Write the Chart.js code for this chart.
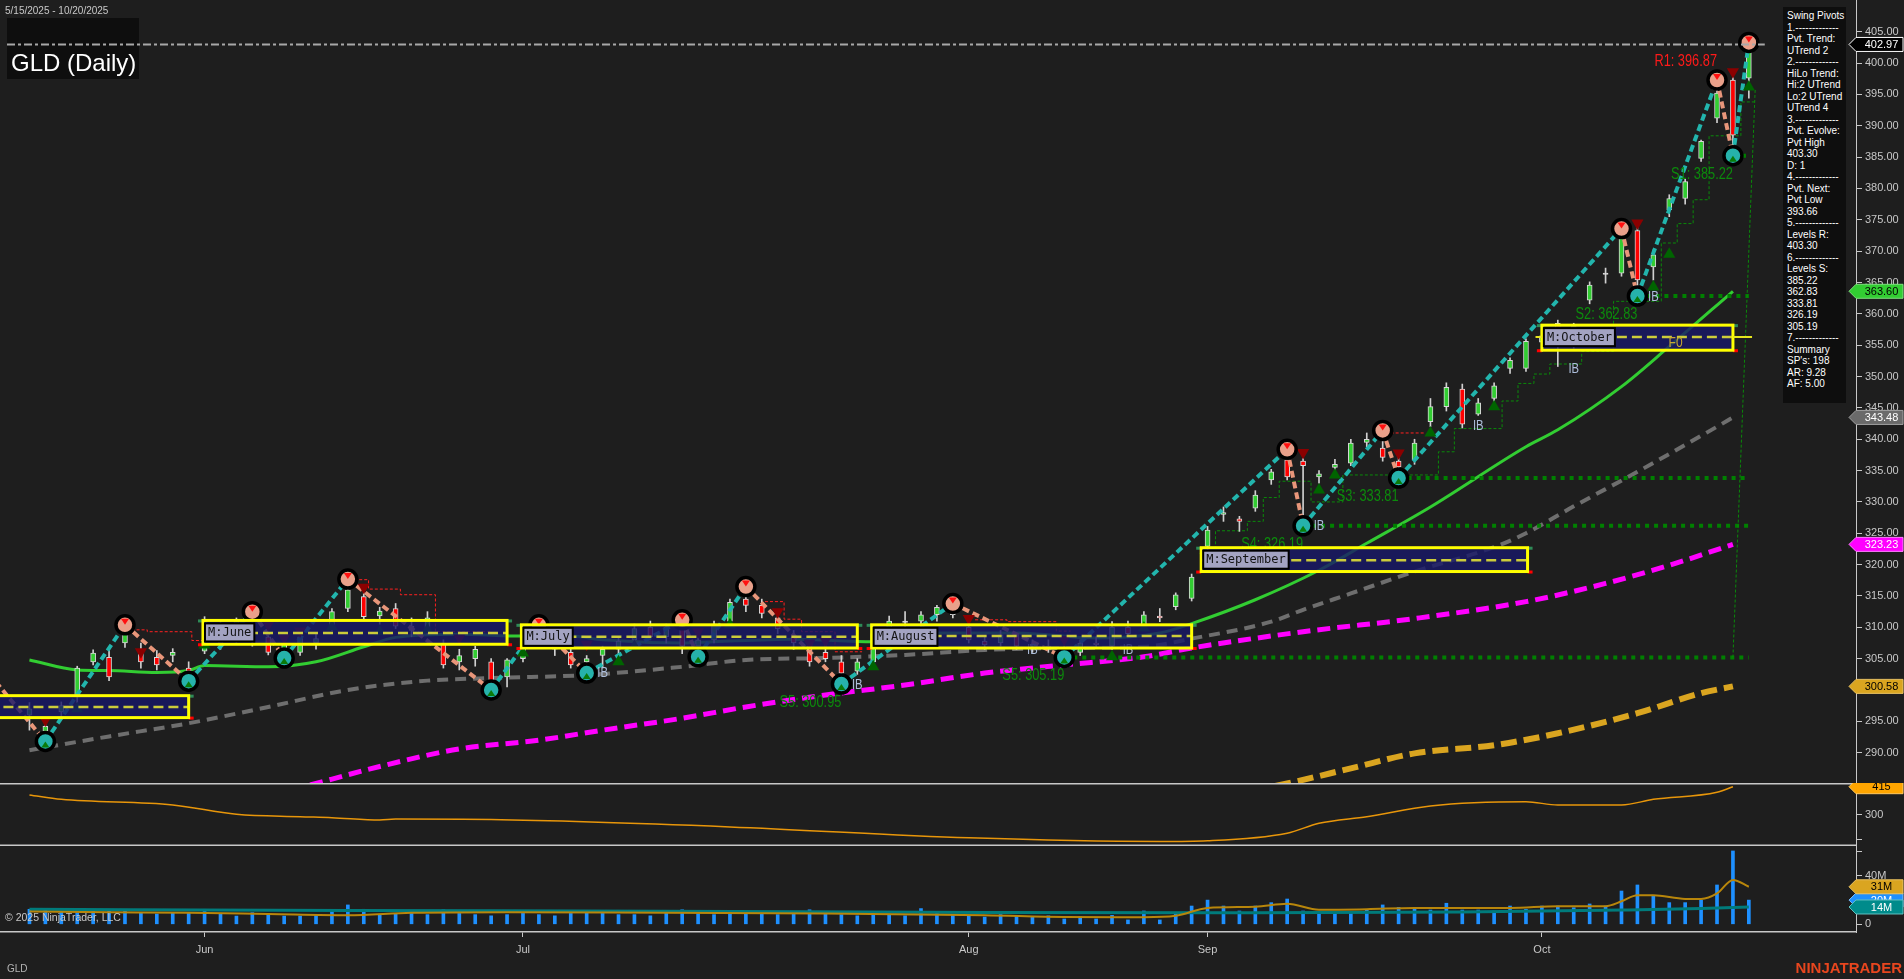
<!DOCTYPE html>
<html>
<head>
<meta charset="utf-8">
<title>GLD (Daily)</title>
<script src="https://cdn.jsdelivr.net/npm/chart.js@4.4.1/dist/chart.umd.min.js"></script>
<style>
  html, body { margin: 0; padding: 0; background: #1e1e1e; overflow: hidden; }
  #wrap { position: relative; width: 1904px; height: 979px; background: #1e1e1e; }
  #wrap canvas { position: absolute; left: 0; }
  #info { position: absolute; left: 1783px; top: 7px; width: 63px; height: 396px; background: #0e0e0e;
          color: #fff; font: 10px "Liberation Sans", Arial, sans-serif; line-height: 11.5px;
          padding: 3px 0 0 4px; box-sizing: border-box; white-space: pre; overflow: hidden; }
</style>
</head>
<body>
<div id="wrap">
  <canvas id="price" width="1904" height="783" style="top:0"></canvas>
  <canvas id="ind" width="1904" height="63" style="top:783px"></canvas>
  <canvas id="vol" width="1904" height="133" style="top:846px"></canvas>
  <div id="info"></div>
</div>
<script>
// ---- daily candles, 5/15/2025 .. 10/20/2025 (bar 0 = May 15) ----
const opens = [
  296.0, 293.4, 296.5, 298.9, 304.5, 305.2, 307.5, 306.5, 305.2, 305.5,
  303.5, 306.2, 310.0, 308.0, 310.5, 308.5, 306.5, 306.0, 307.5, 310.1,
  313.0, 314.9, 311.8, 313.0, 310.2, 309.6, 307.5, 304.5, 305.0, 304.5,
  302.1, 305.0, 308.0, 308.5, 306.0, 304.5, 305.5, 306.5, 308.0, 310.0,
  308.5, 310.0, 307.0, 308.0, 311.0, 314.5, 313.5, 311.5, 308.5, 307.5,
  306.0, 304.5, 303.0, 304.5, 309.5, 311.0, 311.0, 312.0, 313.0, 310.0,
  307.8, 307.5, 308.8, 307.0, 307.0, 306.5, 306.0, 307.5, 307.0, 310.0,
  310.4, 311.8, 313.3, 314.6, 322.9, 328.0, 327.3, 329.0, 333.5, 336.7,
  336.5, 334.0, 335.5, 336.2, 339.5, 338.6, 336.5, 336.7, 342.8, 345.2,
  348.0, 344.0, 346.5, 351.3, 351.3, 355.5, 358.5, 355.5, 362.2, 366.5,
  366.5, 373.3, 367.5, 376.6, 378.4, 384.8, 391.2, 397.3, 397.6
];
const highs = [
  298.0, 295.0, 298.1, 303.8, 306.4, 306.5, 310.4, 307.5, 306.3, 306.6,
  304.5, 311.7, 311.0, 311.5, 312.5, 309.2, 308.0, 309.0, 308.9, 313.0,
  317.7, 316.3, 313.2, 313.8, 311.5, 312.5, 308.0, 306.5, 307.0, 305.0,
  305.0, 308.5, 310.4, 309.5, 307.0, 305.5, 307.0, 308.5, 310.5, 311.0,
  310.5, 311.2, 308.5, 311.0, 314.5, 316.5, 314.5, 312.5, 309.5, 308.0,
  307.7, 305.5, 305.0, 309.5, 311.8, 312.5, 312.5, 313.5, 313.8, 310.5,
  308.5, 309.5, 309.0, 308.0, 308.0, 307.0, 308.0, 308.5, 310.9, 311.0,
  312.5, 313.0, 315.5, 318.5, 326.1, 329.2, 327.7, 331.8, 335.2, 338.4,
  337.0, 335.0, 336.8, 340.0, 341.0, 341.4, 337.5, 340.0, 346.5, 349.0,
  348.8, 346.5, 349.0, 353.0, 356.0, 357.5, 359.0, 358.5, 365.1, 367.3,
  373.6, 374.0, 370.2, 379.0, 381.5, 387.7, 397.3, 398.0, 403.3
];
const lows = [
  293.6, 291.8, 295.5, 298.0, 304.0, 301.5, 306.8, 303.5, 303.2, 304.5,
  301.4, 305.8, 306.5, 307.5, 307.0, 305.6, 305.1, 305.5, 306.5, 309.5,
  312.5, 311.2, 310.5, 309.8, 308.5, 308.9, 303.5, 303.2, 303.8, 300.0,
  300.5, 304.5, 307.5, 305.5, 303.5, 302.7, 303.5, 305.5, 307.5, 308.0,
  307.5, 305.8, 305.3, 307.5, 310.5, 312.5, 311.5, 309.0, 306.5, 303.8,
  304.5, 300.95, 302.5, 303.5, 308.5, 309.8, 310.0, 311.0, 311.5, 307.5,
  306.5, 307.0, 306.5, 306.0, 306.0, 305.19, 305.5, 306.8, 306.5, 308.5,
  309.8, 310.9, 312.8, 314.2, 322.3, 326.9, 325.3, 328.5, 332.8, 333.5,
  326.19, 333.0, 334.5, 335.8, 338.8, 336.5, 333.81, 336.0, 342.0, 344.5,
  341.8, 343.8, 346.0, 350.5, 350.8, 354.0, 351.6, 354.5, 361.6, 364.9,
  366.0, 362.83, 365.4, 375.5, 377.5, 384.3, 390.5, 385.22, 394.4
];
const closes = [
  297.0, 294.2, 297.5, 303.5, 305.9, 302.1, 309.0, 304.5, 304.0, 306.0,
  303.0, 311.0, 307.5, 311.0, 308.0, 306.0, 307.5, 308.5, 308.2, 312.5,
  316.0, 311.7, 312.6, 310.2, 309.5, 311.5, 304.0, 305.5, 306.5, 301.5,
  304.8, 308.0, 308.5, 306.5, 304.0, 305.0, 306.5, 307.8, 309.8, 308.5,
  310.0, 307.0, 308.0, 310.5, 314.0, 313.5, 312.2, 309.8, 307.5, 304.5,
  305.0, 302.7, 304.5, 309.0, 311.0, 310.8, 312.0, 313.2, 312.0, 308.0,
  307.2, 308.8, 307.0, 307.3, 306.5, 306.0, 307.5, 307.2, 310.0, 309.0,
  312.0, 311.5, 315.2, 318.0, 325.5, 328.3, 326.9, 331.1, 334.8, 334.0,
  335.8, 334.5, 336.0, 339.4, 340.0, 337.1, 335.6, 339.4, 345.2, 348.3,
  342.4, 345.8, 348.5, 352.6, 355.6, 356.5, 355.0, 358.0, 364.6, 366.3,
  372.0, 365.4, 369.4, 378.4, 381.1, 387.5, 395.2, 388.5, 402.97
];
// volume in millions
const volumes = [
  12.4, 13.2, 10.7, 12, 12, 12, 12.4, 9.1, 8.5, 9.1, 9.1, 12.4, 8.5, 6.8, 9.6, 7.7, 6.8, 6.8, 7.7, 11, 16, 12.4, 7.7, 8.5,
  9, 8, 12, 9, 8, 7, 8, 9, 8, 7, 9, 11, 9, 8, 8, 7, 10, 12, 9, 8, 9, 10, 9, 8, 10, 12, 9, 8, 7, 9, 8, 7, 13, 9, 8, 7, 6, 8, 7, 6, 7,
  4.4, 6.3, 4.4, 7.4, 3.6, 11, 3.6, 9.1, 15.1, 20, 15.1, 11, 15.1, 17.9, 20.9, 11, 8.5, 9.1, 10.4, 11.8, 16, 14, 14, 11.8,
  17.4, 11.8, 11.8, 11, 15.1, 12.4, 15.1, 15.1, 13.7, 16.8, 15.1, 27.5, 32.5, 23.4, 17.9, 17.9, 20, 32.5, 60.6, 20
];

// moving averages (bar, value)
const greenMaBars = [0, 3, 5, 8, 10, 11, 15, 18, 21, 23, 27, 31, 34, 36, 41, 43, 48, 53, 57, 62, 67, 71, 73, 77, 81, 84, 88, 94, 96, 100, 103, 107];
const greenMaVals = [304.8, 303.2, 303.1, 302.8, 303.1, 303.9, 303.7, 304.5, 306.9, 308.4, 308.9, 308.6, 308.6, 308.0, 307.5, 307.7, 308.1, 307.7, 309.1, 309.1, 308.3, 309.1, 310.6, 314.4, 319.1, 323.4, 329.2, 338.8, 341.5, 348.4, 354.8, 363.60];
const grayMaBars = [0, 5, 10, 15, 20, 25, 29, 35, 41, 45, 50, 55, 60, 65, 70, 73, 78, 80, 83, 87, 92, 94, 97, 101, 106, 107];
const grayMaVals = [290.4, 292.6, 294.7, 297.3, 300.0, 301.5, 301.9, 302.4, 303.7, 304.8, 305.1, 305.6, 306.4, 306.7, 306.9, 308.2, 310.9, 312.8, 315.4, 318.9, 322.8, 325.0, 329.3, 334.8, 342.0, 343.48];
const magentaMaBars = [14, 18, 22, 27, 32, 36, 41, 45, 50, 55, 60, 65, 70, 73, 80, 87, 94, 99, 103, 107];
const magentaMaVals = [282.3, 285.1, 287.8, 290.6, 292.0, 293.6, 295.5, 297.3, 299.2, 300.8, 302.7, 304.0, 305.3, 306.7, 309.3, 311.4, 314.1, 317.0, 319.9, 323.23];
const orangeMaBars = [74, 79, 83, 87, 92, 96, 101, 105, 107];
const orangeMaVals = [282.6, 285.1, 287.5, 289.9, 291.2, 293.1, 296.3, 299.5, 300.58];

// swing pivots
const pivotBars = [-3, 1, 6, 10, 14, 16, 20, 29, 32, 35, 41, 42, 45, 51, 58, 65, 79, 80, 85, 86, 100, 101, 106, 107, 108];
const pivotPrices = [304.0, 291.8, 310.4, 301.4, 312.5, 305.1, 317.7, 300.0, 310.4, 302.7, 311.2, 305.3, 316.5, 300.95, 313.8, 305.19, 338.4, 326.19, 341.4, 333.81, 373.6, 362.83, 397.3, 385.22, 403.3];
const pivotKinds = ['H','L','H','L','H','L','H','L','H','L','H','L','H','L','H','L','H','L','H','L','H','L','H','L','H'];

// support levels
const supportLevels = [385.22, 362.83, 333.81, 326.19, 305.19];
const supportFrom = [107, 101, 86, 80, 65];
const supportTo = 108;

const levelTexts = ['R1: 396.87', 'S1: 385.22', 'S2: 362.83', 'S3: 333.81', 'S4: 326.19', 'S5: 305.19', 'S5: 300.95'];
const levelBars = [106, 107, 101, 86, 80, 65, 51];
const levelPrices = [396.87, 385.22, 362.83, 333.81, 326.19, 305.19, 300.95];

const ibBars = [36, 52, 63, 69, 81, 91, 97, 102];
const ibPrices = [302.8, 300.8, 306.4, 306.4, 326.2, 342.1, 351.3, 362.7];

const downTriBars = [1, 7, 15, 16, 17, 21, 27, 35, 42, 47, 49, 50, 59, 65, 80, 86, 101, 107];
const downTriPrices = [295.2, 306.1, 310.4, 308.3, 309.4, 316.4, 308.3, 307.3, 309.3, 312.5, 307.5, 307.9, 311.4, 308.1, 337.9, 337.8, 374.5, 398.6];
const upTriBars = [3, 11, 19, 22, 25, 31, 37, 38, 44, 53, 68, 70, 81, 82, 88, 92, 102, 103, 108];
const upTriPrices = [297.0, 307.2, 310.1, 309.3, 309.6, 305.9, 304.5, 307.0, 310.4, 303.7, 305.3, 309.9, 331.9, 334.3, 341.0, 345.2, 364.3, 369.5, 396.2];

// trailing stop steps
const greenStopBars = [73.5, 74.5, 76.5, 77.5, 78.5, 80.5, 82.5, 88.5, 89.5, 92.5, 93.5, 94.5, 95.5, 97.5, 99.5, 102.5, 103.5, 104.5, 105.5, 107.5, 108.5];
const greenStopVals = [321.8, 325.4, 326.9, 330.7, 333.3, 330.0, 334.3, 338.0, 341.7, 346.1, 348.9, 350.4, 352.0, 354.0, 362.0, 371.3, 374.4, 378.2, 388.4, 393.8, 393.8];
const redStopBars = [6.1, 7.4, 10.2, 11, null, 14.5, 18.3, null, 20.4, 21.3, 23.3, 25.5, 29, null, 46.2, 47.4, 48.5, 50.6, 52.3, null, 59.4, 61.4, 64.5, 65.4, null, 85.5, 87.6];
const redStopVals = [309.6, 309.3, 307.9, 307.9, null, 310.9, 310.9, null, 317.6, 316.1, 315.2, 309.3, 309.3, null, 314.1, 311.3, 309.3, 306.1, 306.1, null, 311.2, 310.9, 309.4, 309.4, null, 341.0, 341.0];
const fanBars = [107, 108.4];
const fanVals = [305.19, 396.0];

// monthly boxes
const monthBoxStart = [-12, 10.9, 30.9, 52.9, 73.6, 95.0];
const monthBoxEnd = [10.0, 30.0, 52.0, 73.0, 94.1, 107.0];
const monthBoxHigh = [299.1, 311.1, 310.4, 310.4, 322.7, 358.2];
const monthBoxLow = [295.6, 307.3, 306.7, 306.7, 318.9, 354.2];
const monthBoxMid = [297.3, 309.1, 308.5, 308.6, 320.7, 356.3];
const monthBoxName = ['M:May', 'M:June', 'M:July', 'M:August', 'M:September', 'M:October'];
const octMidFrom = 94.6, octMidTo = 108.2;
const fLabelBar = 103.4, fLabelPrice = 355.3;

// lower panels
const indBars = [0, 2, 9, 13, 17, 19, 22, 23, 29, 44, 59, 71, 74, 79, 81, 84, 88, 94, 96, 100, 102, 106, 107];
const indVals = [381, 363, 340, 302, 292, 288, 278, 282, 280, 250, 205, 190, 193, 224, 265, 292, 336, 353, 340, 340, 363, 392, 415];
const volAvgBars = [0, 5, 10, 15, 20, 24, 30, 40, 50, 60, 65, 70, 72, 74, 77, 79, 81, 84, 87, 93, 96, 99, 100, 101, 102, 104, 105, 106, 107, 108];
const volAvgVals = [10.5, 10, 9.5, 8.5, 7.5, 9.5, 10, 9.5, 9, 7.5, 6, 5.8, 7, 13.5, 14.5, 17, 12, 12.5, 13.5, 13.5, 15, 15, 19, 24, 24, 21, 21, 25.5, 36.7, 31];
const volSlowBars = [0, 20, 40, 60, 75, 90, 100, 105, 108];
const volSlowVals = [12.4, 11.5, 10.8, 9.8, 9.6, 10.2, 11.8, 13.0, 14.3];

// axes
const priceTickValues = [290, 295, 300, 305, 310, 315, 320, 325, 330, 335, 340, 345, 350, 355, 360, 365, 370, 375, 380, 385, 390, 395, 400, 405];
const indTickValues = [200, 300, 400];
const indTickLabels = ['', '300', ''];
const volTickValues = [0, 20, 40, 60];
const volTickLabels = ['0', '20M', '40M', ''];
const monthTickBars = [11, 31, 59, 74, 95];
const monthLabels = ['Jun', 'Jul', 'Aug', 'Sep', 'Oct'];

const infoLines = ['Swing Pivots', '1.-------------', 'Pvt. Trend:', 'UTrend 2', '2.-------------', 'HiLo Trend:',
  'Hi:2 UTrend', 'Lo:2 UTrend', 'UTrend 4', '3.-------------', 'Pvt. Evolve:', 'Pvt High', '403.30', 'D: 1',
  '4.-------------', 'Pvt. Next:', 'Pvt Low', '393.66', '5.-------------', 'Levels R:', '403.30', '6.-------------',
  'Levels S:', '385.22', '362.83', '333.81', '326.19', '305.19', '7.-------------', 'Summary', "SP's: 198", 'AR: 9.28', 'AF: 5.00'];

document.getElementById('info').textContent = infoLines.join('\n');

// ---------------------------------------------------------------
const FONT = '"Liberation Sans", Arial, sans-serif';
Chart.defaults.font.family = FONT;
Chart.defaults.animation = false;
Chart.defaults.responsive = false;
Chart.defaults.events = [];
Chart.defaults.plugins.legend.display = false;
Chart.defaults.plugins.tooltip.enabled = false;

const xMin = -1.85, xMax = 114.73;
const axisColor = '#c8c8c8';
const pts = (xs, ys) => xs.map((v, i) => ({ x: v, y: ys[i] }));

function narrowText(ctx, text, x, y, size, sx, align, color) {
  ctx.save();
  ctx.font = size + 'px ' + FONT;
  ctx.fillStyle = color;
  ctx.textBaseline = 'middle';
  ctx.textAlign = align;
  ctx.translate(x, y);
  ctx.scale(sx, 1);
  ctx.fillText(text, 0, 0);
  ctx.restore();
}

function drawTag(chart, yp, text, bg, fg, stroke) {
  const ctx = chart.ctx;
  const r = chart.chartArea.right, w = chart.width - 1;
  ctx.save();
  ctx.beginPath();
  ctx.moveTo(r - 7, yp);
  ctx.lineTo(r, yp - 7);
  ctx.lineTo(w, yp - 7);
  ctx.lineTo(w, yp + 7);
  ctx.lineTo(r, yp + 7);
  ctx.closePath();
  ctx.fillStyle = bg;
  ctx.fill();
  if (stroke) { ctx.strokeStyle = stroke; ctx.lineWidth = 1; ctx.stroke(); }
  ctx.fillStyle = fg;
  ctx.font = '11px ' + FONT;
  ctx.textAlign = 'center';
  ctx.textBaseline = 'middle';
  ctx.fillText(text, (r + w) / 2 + 2, yp + 0.5);
  ctx.restore();
}

function rightAxis(min, max, ticks, cb) {
  return {
    type: 'linear', position: 'right', min, max,
    afterBuildTicks: s => { s.ticks = ticks.map(v => ({ value: v })); },
    afterFit: s => { s.width = 48; s.paddingTop = 0; s.paddingBottom = 0; },
    ticks: { color: axisColor, font: { size: 11 }, padding: 3, callback: cb },
    grid: { drawOnChartArea: false, drawTicks: true, tickLength: 6, color: axisColor },
    border: { display: true, color: axisColor, width: 1 }
  };
}

function hiddenX() {
  return { type: 'linear', display: false, min: xMin, max: xMax, offset: false, grid: { offset: false } };
}

// ---------------- price panel ----------------
const idx = opens.map((_, i) => i);
const candleColor = i => {
  const d = closes[i] - opens[i];
  return Math.abs(d) < 0.3 ? '#e0e0e0' : (d > 0 ? '#32cd32' : '#ff0000');
};
const supportData = [];
supportLevels.forEach((lv, i) => {
  supportData.push({ x: supportFrom[i], y: lv }, { x: supportTo, y: lv }, { x: supportTo, y: null });
});

const priceOverlay = {
  id: 'priceOverlay',
  beforeDatasetsDraw(chart) {
    const ctx = chart.ctx;
    ctx.save();
    ctx.fillStyle = '#0e0e0e';
    ctx.fillRect(7, 18, 132, 61);
    ctx.restore();
  },
  afterDatasetsDraw(chart) {
    const { ctx, chartArea: a, scales: { x, y } } = chart;
    ctx.save();
    ctx.beginPath();
    ctx.rect(a.left, a.top, a.right - a.left, a.bottom - a.top);
    ctx.clip();

    // marks inside pivot circles
    pivotBars.forEach((b, i) => {
      const px = x.getPixelForValue(b), py = y.getPixelForValue(pivotPrices[i]);
      ctx.beginPath();
      if (pivotKinds[i] === 'H') {
        ctx.fillStyle = '#ff1010';
        ctx.moveTo(px - 4, py - 6); ctx.lineTo(px + 4, py - 6); ctx.lineTo(px, py);
      } else {
        ctx.fillStyle = '#0a7a0a';
        ctx.moveTo(px - 4, py + 6); ctx.lineTo(px + 4, py + 6); ctx.lineTo(px, py);
      }
      ctx.closePath();
      ctx.fill();
    });

    // level labels
    levelTexts.forEach((t, i) => {
      const px = x.getPixelForValue(levelBars[i]), py = y.getPixelForValue(levelPrices[i]);
      const isR = t.charAt(0) === 'R';
      narrowText(ctx, t, px, py + (isR ? -21.5 : 18.5), 16, 0.8, 'right', isR ? '#ff1a1a' : '#0c8a0c');
    });
    // IB labels
    ibBars.forEach((b, i) => {
      narrowText(ctx, 'IB', x.getPixelForValue(b), y.getPixelForValue(ibPrices[i]), 15, 0.75, 'center', '#aebfdc');
    });

    // month boxes
    monthBoxStart.forEach((s, i) => {
      const x0 = x.getPixelForValue(s), x1 = x.getPixelForValue(monthBoxEnd[i]);
      const y0 = y.getPixelForValue(monthBoxHigh[i]), y1 = y.getPixelForValue(monthBoxLow[i]);
      const ym = y.getPixelForValue(monthBoxMid[i]);
      ctx.fillStyle = 'rgba(24,24,104,0.82)';
      ctx.fillRect(x0, y0, x1 - x0, y1 - y0);
      ctx.setLineDash([10, 5]);
      ctx.strokeStyle = '#cccc3a';
      ctx.lineWidth = 2.5;
      ctx.beginPath(); ctx.moveTo(x0, ym); ctx.lineTo(x1, ym); ctx.stroke();
      ctx.setLineDash([]);
      ctx.fillStyle = '#ff0000';
      ctx.fillRect(x0 - 5, y1 - 1, 5, 3); ctx.fillRect(x1, y1 - 1, 5, 3);
      ctx.fillStyle = '#2e8b57';
      ctx.fillRect(x0 - 5, y0 - 1, 5, 3); ctx.fillRect(x1, y0 - 1, 5, 3);
      ctx.strokeStyle = '#ffff00';
      ctx.lineWidth = 3;
      ctx.strokeRect(x0, y0, x1 - x0, y1 - y0);
      ctx.font = '12px "DejaVu Sans Mono", monospace';
      const tw = ctx.measureText(monthBoxName[i]).width;
      ctx.fillStyle = '#000';
      ctx.fillRect(x0 + 1, y0 + 2, tw + 8, 20);
      ctx.fillStyle = '#a3a3c2';
      ctx.fillRect(x0 + 3, y0 + 4, tw + 4, 16);
      ctx.fillStyle = '#141414';
      ctx.textAlign = 'left';
      ctx.textBaseline = 'middle';
      ctx.fillText(monthBoxName[i], x0 + 5, y0 + 12.5);
    });
    // October mid level extends past its box
    const om = y.getPixelForValue(monthBoxMid[monthBoxMid.length - 1]);
    ctx.strokeStyle = '#e6e61e';
    ctx.lineWidth = 2;
    ctx.beginPath();
    ctx.moveTo(x.getPixelForValue(octMidFrom), om); ctx.lineTo(x.getPixelForValue(monthBoxStart[5]), om);
    ctx.moveTo(x.getPixelForValue(monthBoxEnd[5]), om); ctx.lineTo(x.getPixelForValue(octMidTo), om);
    ctx.stroke();
    narrowText(ctx, 'F0', x.getPixelForValue(fLabelBar), y.getPixelForValue(fLabelPrice), 15, 0.8, 'center', '#c8a832');

    // last price line
    const lp = y.getPixelForValue(closes[closes.length - 1]);
    ctx.strokeStyle = '#a8a8a8';
    ctx.lineWidth = 2;
    ctx.setLineDash([8, 3, 3, 3]);
    ctx.beginPath(); ctx.moveTo(7, lp); ctx.lineTo(x.getPixelForValue(109), lp); ctx.stroke();
    ctx.setLineDash([]);
    ctx.restore();
  },
  afterDraw(chart) {
    const { ctx, scales: { y } } = chart;
    ctx.save();
    ctx.fillStyle = '#ffffff';
    ctx.font = '24px ' + FONT;
    ctx.textBaseline = 'alphabetic';
    ctx.textAlign = 'left';
    ctx.fillText('GLD (Daily)', 11, 71);
    ctx.fillStyle = '#c8c8c8';
    ctx.font = '10px ' + FONT;
    ctx.textBaseline = 'middle';
    ctx.fillText('5/15/2025 - 10/20/2025', 5, 11);
    ctx.restore();
    drawTag(chart, y.getPixelForValue(closes[closes.length - 1]), closes[closes.length - 1].toFixed(2), '#000000', '#ffffff', '#ffffff');
    drawTag(chart, y.getPixelForValue(greenMaVals[greenMaVals.length - 1]), greenMaVals[greenMaVals.length - 1].toFixed(2), '#32cd32', '#000000', '#7ee07e');
    drawTag(chart, y.getPixelForValue(grayMaVals[grayMaVals.length - 1]), grayMaVals[grayMaVals.length - 1].toFixed(2), '#6a6a6a', '#ffffff', '#a0a0a0');
    drawTag(chart, y.getPixelForValue(magentaMaVals[magentaMaVals.length - 1]), magentaMaVals[magentaMaVals.length - 1].toFixed(2), '#ff00ff', '#ffffff', '#ff80ff');
    drawTag(chart, y.getPixelForValue(orangeMaVals[orangeMaVals.length - 1]), orangeMaVals[orangeMaVals.length - 1].toFixed(2), '#daa520', '#000000', '#e8c060');
  }
};

new Chart(document.getElementById('price'), {
  type: 'bar',
  data: {
    datasets: [
      { type: 'line', order: 20, data: pts(orangeMaBars, orangeMaVals), borderColor: '#daa520', borderWidth: 6, borderDash: [16, 7], pointRadius: 0, cubicInterpolationMode: 'monotone', clip: 0 },
      { type: 'line', order: 19, data: pts(magentaMaBars, magentaMaVals), borderColor: '#ff00ff', borderWidth: 5, borderDash: [13, 7], pointRadius: 0, cubicInterpolationMode: 'monotone', clip: 0 },
      { type: 'line', order: 18, data: pts(grayMaBars, grayMaVals), borderColor: '#6e6e6e', borderWidth: 4, borderDash: [11, 7], pointRadius: 0, cubicInterpolationMode: 'monotone', clip: 0 },
      { type: 'line', order: 17, data: pts(greenMaBars, greenMaVals), borderColor: '#32cd32', borderWidth: 3, pointRadius: 0, cubicInterpolationMode: 'monotone', clip: 0 },
      { type: 'line', order: 16, data: supportData, borderColor: '#008000', borderWidth: 4, borderDash: [4, 5], pointRadius: 0, spanGaps: false, clip: 0 },
      { type: 'line', order: 15, data: pts(greenStopBars, greenStopVals), borderColor: '#0a8a0a', borderWidth: 1, borderDash: [3, 2], pointRadius: 0, stepped: 'before', clip: 0 },
      { type: 'line', order: 15, data: pts(redStopBars, redStopVals).map(p => p.x === null ? { x: 0, y: null } : p), borderColor: '#ff2020', borderWidth: 1, borderDash: [3, 2], pointRadius: 0, stepped: 'before', spanGaps: false, clip: 0 },
      { type: 'line', order: 15, data: pts(fanBars, fanVals), borderColor: '#0a8a0a', borderWidth: 1, borderDash: [3, 2], pointRadius: 0, clip: 0 },
      { order: 12, grouped: false, data: idx.map(i => ({ x: i, y: [lows[i], highs[i]] })), backgroundColor: '#d0d0d0', barThickness: 1, borderWidth: 0 },
      { order: 11, grouped: false, data: idx.map(i => ({ x: i, y: [opens[i], closes[i]] })), backgroundColor: c => candleColor(c.dataIndex), borderColor: '#d8d8d8', borderWidth: 1, borderSkipped: false, barThickness: 5 },
      { type: 'line', order: 8, data: pts(pivotBars, pivotPrices), borderWidth: 4, borderDash: [7, 4], pointRadius: 0, clip: 0,
        segment: { borderColor: c => c.p1.parsed.y > c.p0.parsed.y ? '#22b5ad' : '#e9967a' } },
      { type: 'scatter', order: 6, data: pts(downTriBars, downTriPrices), pointStyle: 'triangle', rotation: 180, pointRadius: 7, backgroundColor: '#8b0000', borderWidth: 0, clip: 0 },
      { type: 'scatter', order: 6, data: pts(upTriBars, upTriPrices), pointStyle: 'triangle', pointRadius: 7, backgroundColor: '#006400', borderWidth: 0, clip: 0 },
      { type: 'scatter', order: 4, data: pts(pivotBars, pivotPrices), pointRadius: 9, borderWidth: 3.5, borderColor: '#000000',
        backgroundColor: c => pivotKinds[c.dataIndex] === 'H' ? '#e9a08a' : '#26b2ab', clip: 0 }
    ]
  },
  options: {
    layout: { padding: 0, autoPadding: false },
    scales: {
      x: hiddenX(),
      y: rightAxis(285.17, 410.06, priceTickValues, v => v.toFixed(2))
    }
  },
  plugins: [priceOverlay]
});

// ---------------- indicator panel ----------------
const indOverlay = {
  id: 'indOverlay',
  afterDraw(chart) {
    const { ctx, chartArea: a, scales: { y } } = chart;
    ctx.save();
    ctx.strokeStyle = axisColor;
    ctx.lineWidth = 1.5;
    ctx.beginPath();
    ctx.moveTo(0, a.top + 0.75); ctx.lineTo(a.right, a.top + 0.75);
    ctx.moveTo(0, a.bottom - 0.75); ctx.lineTo(a.right, a.bottom - 0.75);
    ctx.stroke();
    ctx.restore();
    const last = indVals[indVals.length - 1];
    drawTag(chart, y.getPixelForValue(last), String(Math.round(last)), '#ffa500', '#000000', '#ffc860');
  }
};

new Chart(document.getElementById('ind'), {
  type: 'line',
  data: {
    datasets: [
      { data: pts(indBars, indVals), borderColor: '#e8960a', borderWidth: 1.5, pointRadius: 0, cubicInterpolationMode: 'monotone' }
    ]
  },
  options: {
    layout: { padding: 0, autoPadding: false },
    scales: {
      x: hiddenX(),
      y: rightAxis(171.5, 430.2, indTickValues, v => indTickLabels[indTickValues.indexOf(v)])
    }
  },
  plugins: [indOverlay]
});

// ---------------- volume panel ----------------
const volOverlay = {
  id: 'volOverlay',
  afterDraw(chart) {
    const { ctx, scales: { y } } = chart;
    const lastVol = volumes[volumes.length - 1];
    const lastAvg = volAvgVals[volAvgVals.length - 1];
    const lastSlow = volSlowVals[volSlowVals.length - 1];
    drawTag(chart, y.getPixelForValue(lastVol), Math.round(lastVol) + 'M', '#1e90ff', '#ffffff', '#80c0ff');
    drawTag(chart, y.getPixelForValue(lastAvg), Math.round(lastAvg) + 'M', '#daa520', '#000000', '#e8c060');
    drawTag(chart, y.getPixelForValue(lastSlow), Math.round(lastSlow) + 'M', '#008b8b', '#ffffff', '#60c0c0');
    ctx.save();
    ctx.textBaseline = 'middle';
    ctx.textAlign = 'left';
    ctx.fillStyle = '#c8c8c8';
    ctx.font = '10.5px ' + FONT;
    ctx.fillText('\u00a9 2025 NinjaTrader, LLC', 5, 72);
    ctx.fillStyle = '#b4b4b4';
    ctx.font = '10px ' + FONT;
    ctx.fillText('GLD', 7, 123);
    ctx.textAlign = 'right';
    ctx.fillStyle = '#e8461e';
    ctx.font = 'bold 15px ' + FONT;
    ctx.fillText('NINJATRADER', 1902, 123);
    ctx.restore();
  }
};

new Chart(document.getElementById('vol'), {
  type: 'bar',
  data: {
    datasets: [
      { type: 'line', order: 1, data: pts(volSlowBars, volSlowVals), borderColor: '#007b7b', borderWidth: 3, pointRadius: 0, cubicInterpolationMode: 'monotone' },
      { type: 'line', order: 0, data: pts(volAvgBars, volAvgVals), borderColor: '#b8860b', borderWidth: 2, pointRadius: 0, cubicInterpolationMode: 'monotone' },
      { order: 2, grouped: false, data: idx.map(i => ({ x: i, y: volumes[i] })), backgroundColor: '#1e90ff', barThickness: 3, borderWidth: 0 }
    ]
  },
  options: {
    layout: { padding: 0, autoPadding: false },
    scales: {
      x: {
        type: 'linear', min: xMin, max: xMax, position: 'bottom', offset: false,
        afterBuildTicks: s => { s.ticks = monthTickBars.map(v => ({ value: v })); },
        afterFit: s => { s.height = 47; s.paddingLeft = 0; s.paddingRight = 0; },
        ticks: { color: axisColor, font: { size: 11 }, padding: 6, autoSkip: false, maxRotation: 0,
                 callback: v => monthLabels[monthTickBars.indexOf(v)] },
        grid: { offset: false, drawOnChartArea: false, drawTicks: true, tickLength: 5, color: axisColor },
        border: { display: true, color: axisColor, width: 1.5 }
      },
      y: rightAxis(-6.36, 64.7, volTickValues, v => volTickLabels[volTickValues.indexOf(v)])
    }
  },
  plugins: [volOverlay]
});
</script>
</body>
</html>
